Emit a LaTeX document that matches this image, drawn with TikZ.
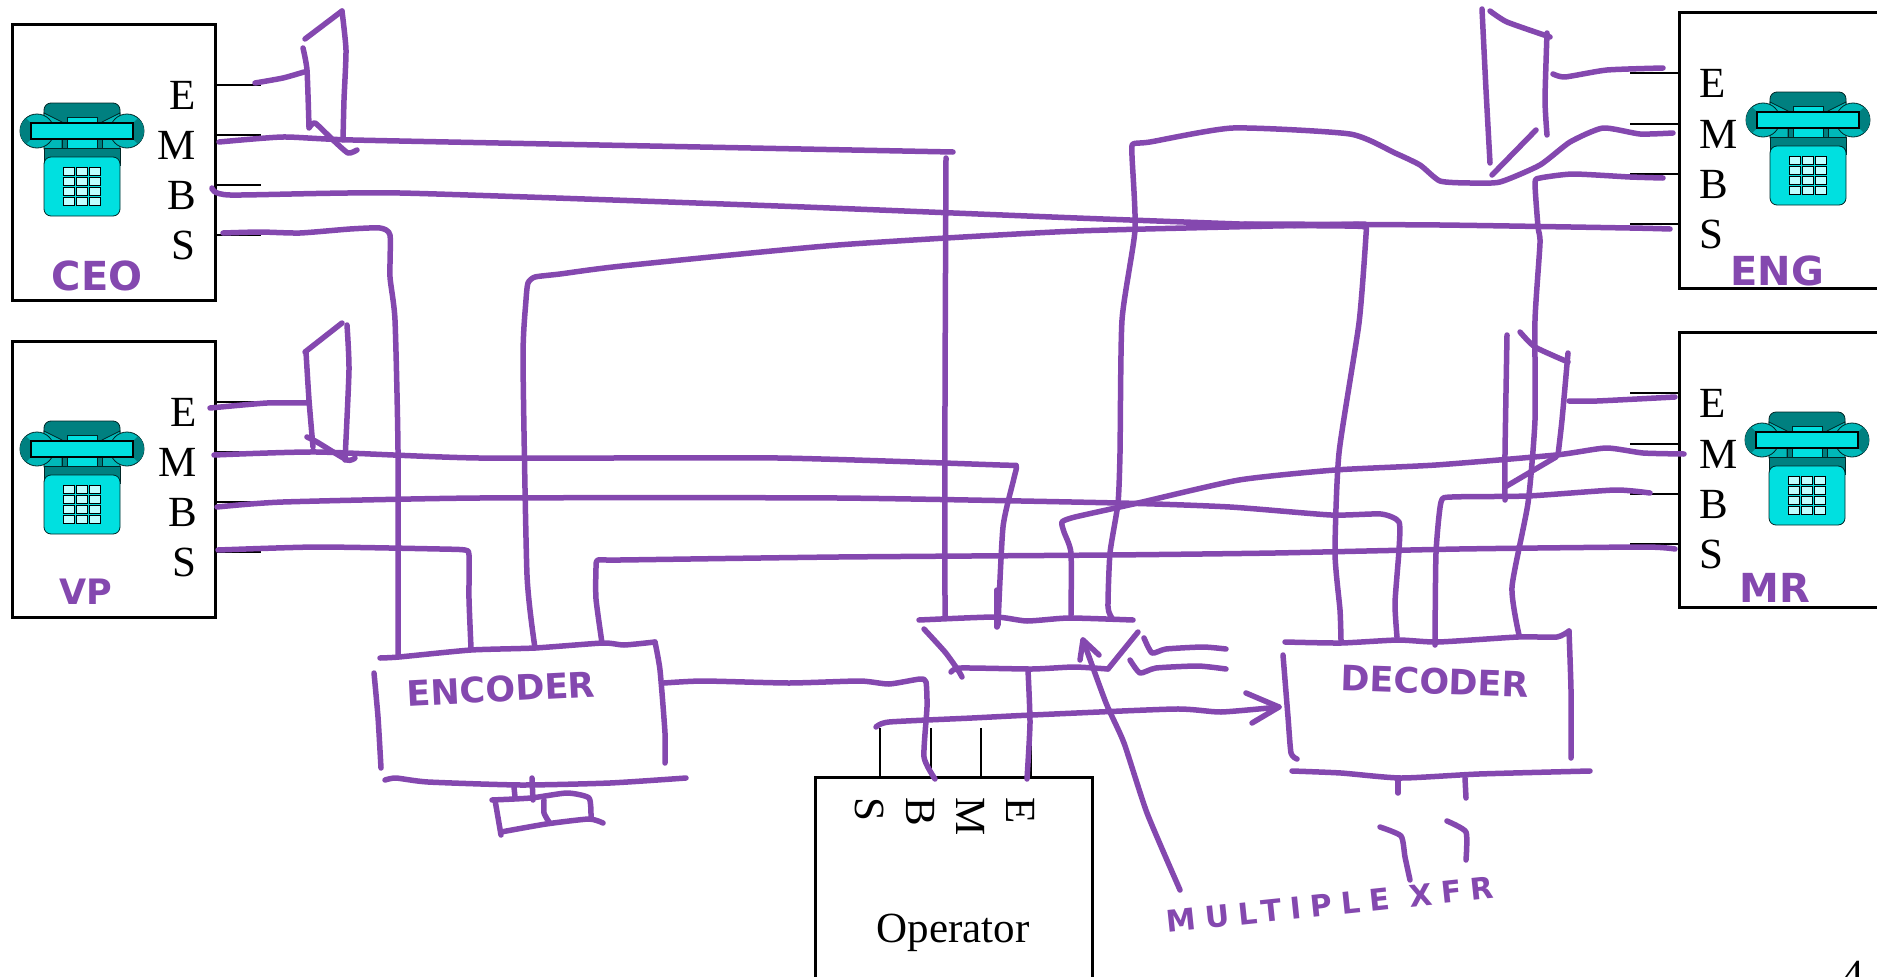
\documentclass[tikz,border=0pt]{standalone}
\usepackage{fontspec}
\setmainfont{Liberation Serif}
\newfontfamily\inkfont{DejaVu Sans}
\newfontfamily\inkwide[LetterSpace=30]{DejaVu Sans}
\definecolor{ink_purple}{RGB}{132,72,175}
\definecolor{phone_dark}{RGB}{0,128,128}
\definecolor{phone_mid}{RGB}{0,184,184}
\definecolor{phone_cyan}{RGB}{0,224,224}
\definecolor{phone_key}{RGB}{190,255,255}
\tikzset{
    phone_box/.style = {
        draw=black,
        line width=3pt,
        anchor=north west,
        outer sep=0pt,
        inner sep=0pt
    },
    port_label/.style = {
        font=\fontsize{43}{50}\selectfont,
        inner sep=0pt
    },
    stub_line/.style = {
        draw=black,
        line width=2.5pt
    },
    wire_stub/.style = {
        draw=black,
        line width=2pt
    },
    ink_line/.style = {
        draw=ink_purple,
        line width=5.5pt,
        line cap=round,
        line join=round,
        smooth,
        tension=0.35
    },
    ink_text/.style = {
        text=ink_purple,
        font=\inkfont\bfseries\fontsize{40}{44}\selectfont,
        inner sep=0pt
    },
    ink_label/.style = {
        text=ink_purple,
        font=\inkfont\bfseries\fontsize{35}{40}\selectfont,
        inner sep=0pt
    },
    phone_line/.style = {
        draw=black!70!phone_dark,
        line width=0.8pt
    },
    phone_icon/.pic = {
        \path[phone_line, fill=phone_dark, rounded corners=7pt] (-38,0) rectangle (38,50);
        \path[phone_line, fill=phone_mid] (-38,10) -- (-20,19) -- (-20,46) -- (-38,46) -- cycle;
        \path[phone_line, fill=phone_mid] (38,10) -- (20,19) -- (20,46) -- (38,46) -- cycle;
        \path[phone_line, fill=phone_dark] (-20,30) rectangle (20,46);
        \path[phone_line, fill=phone_cyan] (-15,14) rectangle (15,46);
        \path[phone_line, fill=phone_mid] (-45,28) circle (17);
        \path[phone_line, fill=phone_mid] (45,28) circle (17);
        \begin{scope}
            \clip (-45,28) circle (17);
            \fill[phone_dark] (-63,8) -- (-51,20) -- (-51,36) -- (-63,48) -- cycle;
        \end{scope}
        \begin{scope}
            \clip (45,28) circle (17);
            \fill[phone_dark] (63,8) -- (51,20) -- (51,36) -- (63,48) -- cycle;
        \end{scope}
        \path[draw=black, line width=1.3pt, fill=phone_cyan] (-51,20) rectangle (51,36);
        \path[phone_line, fill=phone_dark] (-38,45) rectangle (38,62);
        \path[phone_line, fill=phone_cyan, rounded corners=7pt] (-38,54) rectangle (38,113);
        \foreach \keyx in {-19,-6,7} {
            \foreach \keyy in {64,74,84,94} {
                \path[draw=black, line width=1pt, fill=phone_key] (\keyx,\keyy) rectangle (\keyx+11,\keyy+8);
            }
        }
    }
}
\begin{document}
\begin{tikzpicture}[x=1pt, y=-1pt]
    \clip (0,0) rectangle (1877,977);

    \node[phone_box, minimum width=203pt, minimum height=276pt] (ceo_box) at (12,24) {};
    \node[phone_box, minimum width=203pt, minimum height=276pt] (vp_box) at (12,341) {};
    \node[phone_box, minimum width=230pt, minimum height=276pt] (eng_box) at (1679,12) {};
    \node[phone_box, minimum width=230pt, minimum height=275pt] (mr_box) at (1679,332) {};
    \node[phone_box, minimum width=277pt, minimum height=240pt] (op_box) at (815,777) {};

    \pic at (82,103) {phone_icon};
    \pic at (82,421) {phone_icon};
    \pic at (1808,92) {phone_icon};
    \pic at (1807,412) {phone_icon};

    \foreach \sig/\txt/\yy in {e/E/85, m/M/135, b/B/185, s/S/235} {
        \node[port_label, anchor=base east] (ceo_\sig) at (196,\yy+24) {\txt};
        \coordinate (ceo_\sig_stub) at (261,\yy);
        \path[stub_line] (ceo_box.east |- ceo_\sig_stub) -- (ceo_\sig_stub);
        \node[port_label, anchor=base east] (vp_\sig) at (197,\yy+341) {\txt};
        \coordinate (vp_\sig_stub) at (261,\yy+317);
        \path[stub_line] (vp_box.east |- vp_\sig_stub) -- (vp_\sig_stub);
    }
    \foreach \sig/\txt/\yy in {e/E/73, m/M/124, b/B/174, s/S/224} {
        \node[port_label, anchor=base west] (eng_\sig) at (1699,\yy+24) {\txt};
        \coordinate (eng_\sig_stub) at (1630,\yy);
        \path[stub_line] (eng_\sig_stub) -- (eng_box.west |- eng_\sig_stub);
        \node[port_label, anchor=base west] (mr_\sig) at (1699,\yy+344) {\txt};
        \coordinate (mr_\sig_stub) at (1630,\yy+320);
        \path[stub_line] (mr_\sig_stub) -- (mr_box.west |- mr_\sig_stub);
    }
    \foreach \sig/\txt/\xx in {s/S/880, b/B/931, m/M/981, e/E/1031} {
        \node[port_label, anchor=base west, rotate=-90] (op_\sig) at (\xx-25,797) {\txt};
        \coordinate (op_\sig_stub) at (\xx,728);
        \path[wire_stub] (op_\sig_stub) -- (op_box.north -| op_\sig_stub);
    }
    \node[port_label, anchor=base] (op_name) at (953,942) {Operator};
    \node[port_label, anchor=base] (page_num) at (1853,989) {4};

    \path[ink_line] plot coordinates {(305,39) (342,11)};
    \path[ink_line] plot coordinates {(342,11) (346,50) (344,100) (343,140)};
    \path[ink_line] plot coordinates {(303,48) (307,70) (309,127)};
    \path[ink_line] plot coordinates {(309,128) (315,123) (333,140) (348,153) (357,150)};
    \path[ink_line] plot coordinates {(255,83) (283,78) (304,72)};
    \path[ink_line] plot coordinates {(219,142) (283,137) (353,140) (650,146) (953,152)};
    \path[ink_line] plot coordinates {(946,158) (945,400) (945,617)};
    \path[ink_line] plot coordinates {(212,188) (230,195) (400,193) (778,206) (1077,218) (1269,225) (1345,226) (1365,227) (1366,235) (1359,323) (1339,453) (1335,553) (1340,610) (1341,640)};
    \path[ink_line] plot coordinates {(223,233) (260,232) (300,233) (350,229) (380,228) (390,235) (390,277) (395,320) (398,450) (398,656)};

    \path[ink_line] plot coordinates {(305,352) (342,323)};
    \path[ink_line] plot coordinates {(347,325) (349,370) (345,460)};
    \path[ink_line] plot coordinates {(306,352) (309,400) (313,447)};
    \path[ink_line] plot coordinates {(307,437) (317,442) (347,460) (355,458)};
    \path[ink_line] plot coordinates {(210,408) (267,403) (308,403)};
    \path[ink_line] plot coordinates {(214,455) (317,452) (479,458) (778,458) (1000,465) (1016,466) (1014,478) (1003,527) (998,625)};
    \path[ink_line] plot coordinates {(217,507) (283,502) (479,498) (838,498) (1119,503) (1230,507) (1331,515) (1381,514) (1399,522) (1399,550) (1395,603) (1397,637)};
    \path[ink_line] plot coordinates {(218,550) (317,547) (440,549) (465,550) (469,555) (469,599) (471,648)};

    \path[ink_line] plot coordinates {(1482,9) (1486,90) (1490,163)};
    \path[ink_line] plot coordinates {(1490,11) (1507,22) (1550,37)};
    \path[ink_line] plot coordinates {(1547,33) (1545,100) (1547,135)};
    \path[ink_line] plot coordinates {(1536,130) (1492,175)};
    \path[ink_line] plot coordinates {(1663,68) (1607,70) (1565,77) (1553,74)};
    \path[ink_line] plot coordinates {(1673,133) (1640,134) (1603,128) (1570,142) (1540,165) (1500,182) (1470,183) (1440,181) (1420,165) (1395,153) (1350,134) (1233,128) (1150,142) (1133,144) (1132,156) (1135,230) (1122,320) (1120,453) (1118,503) (1110,553) (1108,607) (1112,618)};
    \path[ink_line] plot coordinates {(1663,178) (1630,177) (1573,174) (1540,178) (1535,183) (1538,227) (1540,243) (1535,320) (1535,420) (1528,503) (1512,587) (1519,635)};
    \path[ink_line] plot coordinates {(1670,229) (1630,228) (1440,225) (1245,224)};
    \path[ink_line] plot coordinates {(535,648) (527,575) (523,359) (526,300) (528,283) (535,277) (560,274) (622,266) (838,245) (1077,231) (1365,224)};

    \path[ink_line] plot coordinates {(1507,335) (1505,453) (1505,500)};
    \path[ink_line] plot coordinates {(1520,332) (1535,347) (1568,362)};
    \path[ink_line] plot coordinates {(1568,353) (1562,420) (1558,455)};
    \path[ink_line] plot coordinates {(1556,457) (1505,487)};
    \path[ink_line] plot coordinates {(1569,401) (1597,401) (1675,397)};
    \path[ink_line] plot coordinates {(1684,454) (1643,453) (1606,448) (1556,455) (1436,465) (1335,470) (1239,480) (1138,503) (1075,517) (1062,522) (1064,532) (1071,553) (1071,615)};
    \path[ink_line] plot coordinates {(1650,493) (1615,490) (1528,496) (1452,497) (1441,502) (1436,553) (1435,645)};
    \path[ink_line] plot coordinates {(1675,549) (1643,547) (1459,549) (1275,553) (1110,555) (838,557) (620,560) (598,560) (596,568) (596,599) (602,643)};

    \path[ink_line] plot coordinates {(380,658) (399,657) (471,650) (535,648) (603,643) (624,645) (655,642)};
    \path[ink_line] plot coordinates {(655,642) (660,670) (665,733) (665,763)};
    \path[ink_line] plot coordinates {(374,673) (378,717) (381,768)};
    \path[ink_line] plot coordinates {(385,780) (396,778) (428,782) (521,785) (610,783) (686,778)};
    \path[ink_line] plot coordinates {(664,683) (703,681) (789,683) (860,681) (889,684) (920,679) (926,682) (927,707) (924,757) (935,779)};
    \path[ink_line] plot coordinates {(492,800) (531,798) (567,793) (589,798) (591,818)};
    \path[ink_line] plot coordinates {(495,800) (501,835)};
    \path[ink_line] plot coordinates {(501,832) (546,824) (589,819) (603,823)};
    \path[ink_line] plot coordinates {(544,800) (544,813) (549,822)};
    \path[ink_line] plot coordinates {(514,787) (515,797)};
    \path[ink_line] plot coordinates {(532,778) (533,800)};

    \path[ink_line] plot coordinates {(919,620) (995,617) (1027,621) (1069,618) (1133,620)};
    \path[ink_line] plot coordinates {(997,590) (997,627)};
    \path[ink_line] plot coordinates {(924,629) (945,652) (958,670) (962,677)};
    \path[ink_line] plot coordinates {(951,672) (961,668) (1032,669) (1074,667) (1108,669)};
    \path[ink_line] plot coordinates {(1108,669) (1138,632)};
    \path[ink_line] plot coordinates {(1144,638) (1152,653) (1166,649) (1203,647) (1226,649)};
    \path[ink_line] plot coordinates {(1130,660) (1140,673) (1156,668) (1198,666) (1226,669)};
    \path[ink_line] plot coordinates {(1028,670) (1030,723) (1027,779)};
    \path[ink_line] plot coordinates {(876,727) (889,722) (972,718) (1032,715) (1175,709) (1221,712) (1279,707)};
    \path[ink_line] plot[sharp plot] coordinates {(1246,693) (1279,707) (1252,723)};
    \path[ink_line] plot coordinates {(1180,890) (1147,813) (1124,743) (1106,703) (1083,640)};
    \path[ink_line] plot[sharp plot] coordinates {(1080,660) (1083,640) (1099,655)};

    \path[ink_line] plot coordinates {(1285,642) (1341,643) (1398,640) (1438,642) (1518,637) (1557,637) (1569,631)};
    \path[ink_line] plot coordinates {(1569,631) (1571,690) (1571,758)};
    \path[ink_line] plot coordinates {(1283,655) (1288,717) (1291,753) (1297,759)};
    \path[ink_line] plot coordinates {(1292,771) (1341,773) (1401,778) (1479,774) (1590,771)};
    \path[ink_line] plot coordinates {(1398,778) (1398,793)};
    \path[ink_line] plot coordinates {(1465,778) (1466,798)};
    \path[ink_line] plot coordinates {(1380,827) (1401,836) (1405,857) (1410,880)};
    \path[ink_line] plot coordinates {(1447,821) (1466,832) (1466,860)};

    \node[ink_text] (ceo_name) at (97,276) {CEO};
    \node[ink_label] (vp_name) at (86,592) {VP};
    \node[ink_text] (eng_name) at (1777,271) {ENG};
    \node[ink_text] (mr_name) at (1775,588) {MR};
    \node[ink_label, rotate=3] (encoder_name) at (501,689) {ENCODER};
    \node[ink_label, rotate=-2] (decoder_name) at (1435,681) {DECODER};
    \node[ink_text, font=\inkwide\bfseries\fontsize{30}{34}\selectfont, rotate=6] (multiple_name) at (1330,905) {MULTIPLE XFR};
\end{tikzpicture}
\end{document}
